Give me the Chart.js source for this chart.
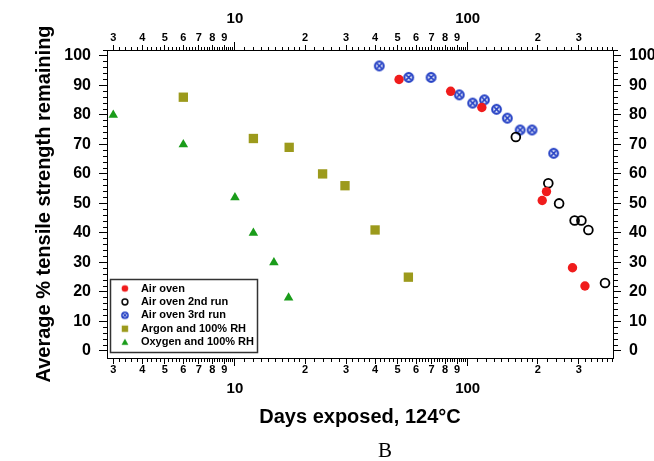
<!DOCTYPE html>
<html>
<head>
<meta charset="utf-8">
<title>Tensile strength remaining vs days exposed</title>
<script src="https://cdn.jsdelivr.net/npm/chart.js@4.4.1/dist/chart.umd.min.js"></script>
<style>
  html, body { margin: 0; padding: 0; background: #fff; }
  canvas { display: block; }
</style>
</head>
<body>
<canvas id="strengthChart" width="654" height="461"></canvas>
<script>
// days exposed and % tensile strength remaining, one pair per series
const airOvenDays = [50.7, 84.5, 115, 209, 218, 282, 319];
const airOvenStrength = [92, 88, 82.5, 51, 54, 28.2, 22];
const run2Days = [161, 222, 247, 288, 308, 330, 389];
const run2Strength = [72.5, 56.8, 50, 44.2, 44.2, 41, 23];
const run3Days = [41.7, 55.8, 69.6, 92, 105, 118, 133, 148, 168, 189, 234];
const run3Strength = [96.6, 92.7, 92.7, 86.8, 84, 85.1, 81.9, 78.9, 74.9, 74.9, 67];
const argonDays = [6, 12, 17.1, 23.8, 29.7, 40, 55.6];
const argonStrength = [86, 72, 69, 60, 56, 41, 25];
const oxygenDays = [3, 6, 10, 12, 14.7, 17];
const oxygenStrength = [80, 70, 52, 40, 30, 18];

const seriesNames = ['Air oven', 'Air oven 2nd run', 'Air oven 3rd run', 'Argon and 100% RH', 'Oxygen and 100% RH'];

// axis ticks
const dayLabelValues = [3, 4, 5, 6, 7, 8, 9, 10, 20, 30, 40, 50, 60, 70, 80, 90, 100, 200, 300];
const decadeValues = [10, 100];
const strengthLabelValues = [0, 10, 20, 30, 40, 50, 60, 70, 80, 90, 100];

const dayMin = 2.82, dayMax = 421;
const strengthMin = -2.4, strengthMax = 102;

const RED = '#f01c1c';
const BLUE = '#2440c4';
const OLIVE = '#9c9a1c';
const GREEN = '#1a9c1a';
const FONT = 'Arial, "Liberation Sans", sans-serif';

const pts = (xs, ys) => xs.map((x, i) => ({ x, y: ys[i] }));

// small canvases used as point styles
function makeCanvas(size) {
  const c = document.createElement('canvas');
  c.width = c.height = size;
  return c;
}

function ringCross(r, color, lw, xw) {
  const size = Math.ceil(2 * r + lw) + 2;
  const c = makeCanvas(size);
  const g = c.getContext('2d');
  const m = size / 2;
  g.strokeStyle = color;
  g.lineWidth = lw;
  g.beginPath();
  g.arc(m, m, r, 0, Math.PI * 2);
  g.stroke();
  const a = r * 0.55;
  g.lineWidth = xw;
  g.beginPath();
  g.moveTo(m - a, m - a); g.lineTo(m + a, m + a);
  g.moveTo(m + a, m - a); g.lineTo(m - a, m + a);
  g.stroke();
  return c;
}

function icon(kind, color, r) {
  const size = Math.ceil(2 * r) + 3;
  const c = makeCanvas(size);
  const g = c.getContext('2d');
  const m = size / 2;
  g.fillStyle = color;
  g.strokeStyle = color;
  g.beginPath();
  if (kind === 'dot') {
    g.arc(m, m, r, 0, Math.PI * 2);
    g.fill();
  } else if (kind === 'ring') {
    g.lineWidth = 1.5;
    g.arc(m, m, r - 0.5, 0, Math.PI * 2);
    g.stroke();
  } else if (kind === 'square') {
    g.fillRect(m - r, m - r, 2 * r, 2 * r);
  } else if (kind === 'triangle') {
    g.moveTo(m, m - r);
    g.lineTo(m + r, m + r * 0.8);
    g.lineTo(m - r, m + r * 0.8);
    g.closePath();
    g.fill();
  }
  return c;
}

const run3Point = ringCross(4.3, BLUE, 2.2, 1.7);
const legendIcons = [
  icon('dot', RED, 3.3),
  icon('ring', '#000', 3.4),
  ringCross(3.1, BLUE, 1.5, 1.2),
  icon('square', OLIVE, 3.2),
  icon('triangle', GREEN, 3.4)
];

// log-axis tick positions: 1.0..2.0 by 0.1, then 2..10 by 0.2 within each decade
function dayTickValues() {
  const vals = [];
  for (let d = 1; d <= 100; d *= 10) {
    for (let k = 10; k < 100; k += (k < 20 ? 1 : 2)) {
      const v = +(k * d / 10).toPrecision(6);
      if (v >= dayMin && v <= dayMax) vals.push(v);
    }
  }
  return vals;
}

function strengthTickValues() {
  const vals = [];
  for (let v = 0; v <= strengthMax; v += 2) vals.push(v);
  return vals;
}

function dayLabel(v, top) {
  if (!dayLabelValues.includes(v)) return '';
  if (decadeValues.includes(v)) return top ? [String(v), ''] : ['', String(v)];
  const mag = Math.pow(10, Math.floor(Math.log10(v) + 1e-9));
  return String(Math.round(v / mag));
}

function dayFont(c) {
  const big = c.tick && decadeValues.includes(c.tick.value);
  return big
    ? { family: FONT, size: 15, weight: 'bold', lineHeight: 1.15 }
    : { family: FONT, size: 11, weight: 'bold', lineHeight: 1.2 };
}

// tick lengths by level; the dash hides the rest of the 8px tick line
function dash(len, outerFirst) {
  return outerFirst ? [0, 8 - len, len, 100] : [len, 100];
}
function dayDash(outerFirst) {
  return (c) => {
    const v = c.tick ? c.tick.value : 0;
    const len = decadeValues.includes(v) ? 8 : dayLabelValues.includes(v) ? 5 : 3;
    return dash(len, outerFirst);
  };
}
function strengthDash(outerFirst) {
  return (c) => {
    const v = c.tick ? c.tick.value : 0;
    return dash(strengthLabelValues.includes(v) ? 8 : 4, outerFirst);
  };
}

function dayAxis(position, size) {
  const top = position === 'top';
  return {
    type: 'logarithmic',
    position,
    min: dayMin,
    max: dayMax,
    bounds: 'data',
    afterBuildTicks: (s) => { s.ticks = dayTickValues().map(v => ({ value: v })); },
    afterFit: (s) => { s.height = size; },
    border: { display: true, color: '#000', width: 1 },
    grid: {
      drawOnChartArea: false,
      drawTicks: true,
      tickLength: 8,
      tickColor: '#000',
      tickWidth: 1,
      tickBorderDash: dayDash(top)
    },
    ticks: {
      autoSkip: false,
      maxRotation: 0,
      padding: -3,
      color: '#000',
      font: dayFont,
      callback: (v) => dayLabel(v, top)
    },
    title: {
      display: !top,
      text: 'Days exposed, 124°C',
      color: '#000',
      font: { family: FONT, size: 20, weight: 'bold' },
      padding: { top: 0, bottom: 32 }
    }
  };
}

function strengthAxis(position, size) {
  const left = position === 'left';
  return {
    type: 'linear',
    position,
    min: strengthMin,
    max: strengthMax,
    bounds: 'data',
    afterBuildTicks: (s) => { s.ticks = strengthTickValues().map(v => ({ value: v })); },
    afterFit: (s) => { s.width = size; },
    border: { display: true, color: '#000', width: 1 },
    grid: {
      drawOnChartArea: false,
      drawTicks: true,
      tickLength: 8,
      tickColor: '#000',
      tickWidth: 1,
      tickBorderDash: strengthDash(left)
    },
    ticks: {
      autoSkip: false,
      padding: 8,
      color: '#000',
      font: { family: FONT, size: 16, weight: 'bold' },
      callback: (v) => strengthLabelValues.includes(v) ? String(v) : ''
    },
    title: {
      display: left,
      text: 'Average % tensile strength remaining',
      color: '#000',
      font: { family: FONT, size: 20, weight: 'bold' },
      padding: { top: 32, bottom: 0 }
    }
  };
}

// moves the legend into the lower-left corner, frames it and writes the panel letter
const legendFrame = {
  id: 'legendFrame',
  afterLayout(chart) {
    const lg = chart.legend;
    lg.left = chart.chartArea.left + 5;
    lg.bottom = chart.chartArea.bottom - 8;
  },
  afterDraw(chart) {
    const { ctx, chartArea } = chart;
    const boxes = chart.legend.legendHitBoxes;
    if (boxes && boxes.length) {
      const l = Math.min(...boxes.map(b => b.left)) - 4.5;
      const t = Math.min(...boxes.map(b => b.top)) - 4;
      const r = Math.max(...boxes.map(b => b.left + b.width)) + 3;
      const b = Math.max(...boxes.map(b => b.top + b.height)) + 4.5;
      ctx.save();
      ctx.strokeStyle = '#333';
      ctx.lineWidth = 1.5;
      ctx.strokeRect(Math.round(l) + 0.5, Math.round(t) + 0.5, Math.round(r - l), Math.round(b - t));
      ctx.restore();
    }
    ctx.save();
    ctx.fillStyle = '#000';
    ctx.font = '21px "Liberation Serif", "Times New Roman", serif';
    ctx.textAlign = 'center';
    ctx.textBaseline = 'middle';
    ctx.fillText('B', (chartArea.left + chartArea.right) / 2 + 25, chart.height - 10);
    ctx.restore();
  }
};

const ctx = document.getElementById('strengthChart').getContext('2d');

const strengthChart = new Chart(ctx, {
  type: 'scatter',
  data: {
    datasets: [{
      label: seriesNames[0],
      data: pts(airOvenDays, airOvenStrength),
      pointStyle: 'circle',
      pointRadius: 4.7,
      backgroundColor: RED,
      borderColor: RED,
      borderWidth: 0
    }, {
      label: seriesNames[1],
      data: pts(run2Days, run2Strength),
      pointStyle: 'circle',
      pointRadius: 4.4,
      backgroundColor: 'rgba(0,0,0,0)',
      borderColor: '#000',
      borderWidth: 1.8
    }, {
      label: seriesNames[2],
      data: pts(run3Days, run3Strength),
      pointStyle: run3Point,
      pointRadius: 5,
      backgroundColor: BLUE,
      borderColor: BLUE
    }, {
      label: seriesNames[3],
      data: pts(argonDays, argonStrength),
      pointStyle: 'rect',
      pointRadius: 6.6,
      backgroundColor: OLIVE,
      borderColor: OLIVE,
      borderWidth: 0
    }, {
      label: seriesNames[4],
      data: pts(oxygenDays, oxygenStrength),
      pointStyle: 'triangle',
      pointRadius: 5.5,
      backgroundColor: GREEN,
      borderColor: GREEN,
      borderWidth: 0
    }]
  },
  options: {
    responsive: false,
    animation: false,
    devicePixelRatio: 1,
    layout: { padding: 0 },
    scales: {
      x: dayAxis('bottom', 103),
      x2: dayAxis('top', 50),
      y: strengthAxis('left', 107),
      y2: strengthAxis('right', 41)
    },
    plugins: {
      legend: {
        position: 'chartArea',
        align: 'end',
        labels: {
          usePointStyle: true,
          pointStyleWidth: 21,
          padding: 2.4,
          color: '#000',
          font: { family: FONT, size: 11, weight: 'bold' },
          generateLabels: (chart) => chart.data.datasets.map((ds, i) => ({
            text: ds.label,
            pointStyle: legendIcons[i],
            fillStyle: 'rgba(0,0,0,0)',
            strokeStyle: 'rgba(0,0,0,0)',
            lineWidth: 0,
            fontColor: '#000',
            hidden: false,
            datasetIndex: i
          }))
        }
      },
      tooltip: { enabled: false }
    }
  },
  plugins: [legendFrame]
});
</script>
</body>
</html>
